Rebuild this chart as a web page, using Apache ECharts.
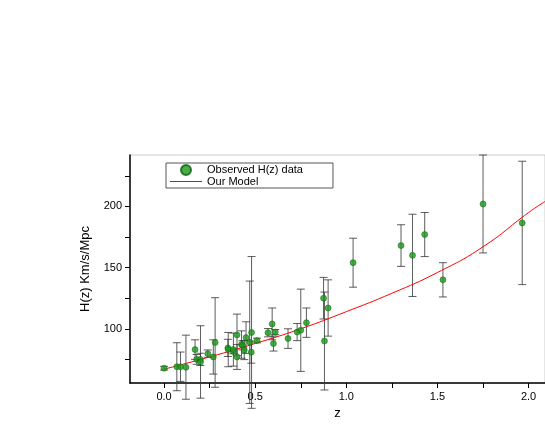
<!DOCTYPE html>
<html>
<head>
<meta charset="utf-8">
<script src="https://cdn.jsdelivr.net/npm/echarts@6/dist/echarts.min.js"></script>
<style>html,body{margin:0;padding:0;background:#fff}#chart{width:545px;height:436px}</style>
</head>
<body>
<div id="chart"></div>
<script>
// observed H(z) data: redshift, H, sigma
var zData = [0, 0.07, 0.09, 0.12, 0.17, 0.179, 0.199, 0.2, 0.24, 0.27, 0.28, 0.35, 0.352, 0.38, 0.3802, 0.4, 0.4004, 0.4247, 0.43, 0.44, 0.4497, 0.47, 0.4783, 0.48, 0.51, 0.57, 0.593, 0.6, 0.61, 0.68, 0.73, 0.75, 0.781, 0.875, 0.88, 0.9, 1.037, 1.3, 1.363, 1.43, 1.53, 1.75, 1.965];
var hData = [67.8, 69, 69, 68.6, 83, 75, 75, 72.9, 79.7, 77, 88.8, 84.4, 83, 81.5, 83, 95, 77, 87.1, 86.5, 82.6, 92.8, 89, 80.9, 97, 90.4, 96.8, 104, 87.9, 97.3, 92, 97.3, 98.8, 105, 125, 90, 117, 154, 168, 160, 177, 140, 202, 186.5];
var sigData = [1.5, 19.6, 12, 26.2, 8, 4, 5, 29.6, 3, 14, 36.6, 7, 14, 1.9, 13.5, 17, 10.2, 11.2, 3.7, 7.8, 12.9, 50, 9, 62, 1.9, 3.4, 13, 6.1, 2.1, 8, 7, 33.6, 12, 17, 40, 23, 20, 17, 33.6, 18, 14, 40, 50.4];
// model curve
var modelZ = [0, 0.25, 0.5, 0.75, 1.0, 1.25, 1.5, 1.75, 2.0, 2.09];
var modelH = [67, 77, 88, 100, 114, 129, 146, 167, 195, 204];
var xLabels = [0, 0.5, 1, 1.5, 2];
var yLabels = [100, 150, 200];

var pts = zData.map(function (z, i) { return [z, hData[i]]; });
var bars = zData.map(function (z, i) { return [z, hData[i] - sigData[i], hData[i] + sigData[i]]; });
var model = modelZ.map(function (z, i) { return [z, modelH[i]]; });

var chart = echarts.init(document.getElementById('chart'));
var font = 'Liberation Sans';
chart.setOption({
    animation: false,
    grid: {left: 130, right: 0, top: 155, bottom: 53, show: true, borderColor: '#999', borderWidth: 0.5},
    legend: {
        left: 166, top: 163, orient: 'vertical', itemGap: 0, itemWidth: 32, itemHeight: 10,
        borderColor: '#555', borderWidth: 1, padding: [1, 30, 1, 4],
        textStyle: {fontFamily: font, fontSize: 11, color: '#000'},
        data: [
            {name: 'Observed H(z) data', icon: 'path://M13,2A3,3 0 1,1 13.01,2Z', itemStyle: {color: '#1a9a1a'}},
            {name: 'Our Model', icon: 'path://M0,4H32V5H0Z', itemStyle: {color: '#ff0000'}}
        ]
    },
    xAxis: {
        type: 'value', min: -0.187, max: 2.09, name: 'z', nameLocation: 'middle', nameGap: 22,
        nameTextStyle: {fontFamily: font, fontSize: 13, color: '#000'},
        axisLine: {onZero: false, lineStyle: {color: '#000', width: 1.5}},
        axisTick: {customValues: [0, 0.25, 0.5, 0.75, 1, 1.25, 1.5, 1.75, 2], lineStyle: {color: '#000'}},
        axisLabel: {customValues: xLabels, fontFamily: font, fontSize: 11, color: '#000',
            formatter: function (v) { return v.toFixed(1); }},
        splitLine: {show: false}
    },
    yAxis: {
        type: 'value', min: 55.7, max: 242, name: 'H(z) Km/s/Mpc', nameLocation: 'middle', nameGap: 38,
        nameTextStyle: {fontFamily: font, fontSize: 13, color: '#000'},
        axisLine: {onZero: false, lineStyle: {color: '#000', width: 1.5}},
        axisTick: {customValues: [75, 100, 125, 150, 175, 200, 225], lineStyle: {color: '#000'}},
        axisLabel: {customValues: yLabels, fontFamily: font, fontSize: 11, color: '#000'},
        splitLine: {show: false}
    },
    series: [
        {
            type: 'custom', name: 'err', silent: true, z: 1,
            data: bars,
            renderItem: function (params, api) {
                var x = api.value(0);
                var lo = api.coord([x, api.value(1)]);
                var hi = api.coord([x, api.value(2)]);
                var w = 4;
                var st = {stroke: '#333', lineWidth: 0.8};
                return {type: 'group', children: [
                    {type: 'line', shape: {x1: lo[0], y1: lo[1], x2: hi[0], y2: hi[1]}, style: st},
                    {type: 'line', shape: {x1: lo[0] - w, y1: lo[1], x2: lo[0] + w, y2: lo[1]}, style: st},
                    {type: 'line', shape: {x1: hi[0] - w, y1: hi[1], x2: hi[0] + w, y2: hi[1]}, style: st}
                ]};
            }
        },
        {
            type: 'line', name: 'Our Model', data: model, smooth: true, symbol: 'none', z: 2,
            lineStyle: {color: '#ff0000', width: 1}, itemStyle: {color: '#ff0000'}
        },
        {
            type: 'scatter', name: 'Observed H(z) data', data: pts, symbol: 'circle', symbolSize: 6, z: 3,
            itemStyle: {color: '#1a9a1a', borderColor: '#0b5e0b', borderWidth: 0.6}
        }
    ]
});
</script>
</body>
</html>
